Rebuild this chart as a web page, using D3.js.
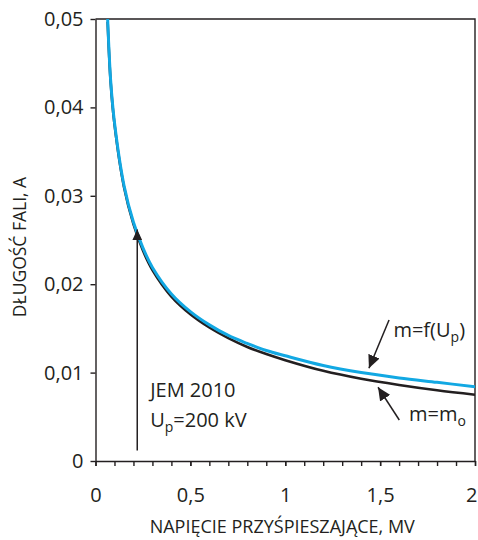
<!DOCTYPE html>
<html>
<head>
<meta charset="utf-8">
<script src="https://cdn.jsdelivr.net/npm/d3@7"></script>
<style>
  body { margin: 0; background: #fff; }
  svg { display: block; }
  text { font-family: "Open Sans", "Noto Sans", sans-serif; fill: #231f20; }
</style>
</head>
<body>
<svg id="chart" width="478" height="540"></svg>
<script>
// accelerating voltage, MV
const voltage = [0.064, 0.08, 0.10, 0.15, 0.20, 0.25, 0.30, 0.40, 0.50, 0.60, 0.70, 0.80, 0.90, 1.00, 1.20, 1.40, 1.60, 1.80, 2.00];
// wavelength, A  — series m = f(Up) (blue)
const lambdaVariableMass = [0.0500, 0.0430, 0.0383, 0.0312, 0.0270, 0.0241, 0.0219, 0.0189, 0.0169, 0.0154, 0.0142, 0.0133, 0.0125, 0.0119, 0.0108, 0.0100, 0.0094, 0.0089, 0.0084];
// wavelength, A  — series m = m0 (black)
const lambdaRestMass = [0.0497, 0.0428, 0.0381, 0.0310, 0.0268, 0.0238, 0.0216, 0.0186, 0.0166, 0.0151, 0.0139, 0.0129, 0.0121, 0.0114, 0.0102, 0.0093, 0.0086, 0.0080, 0.0075];

const xTickValues = [0, 0.5, 1, 1.5, 2];
const xTickLabels = ["0", "0,5", "1", "1,5", "2"];
const xMinorTicks = d3.range(0, 21).map(i => i / 10);
const yTickValues = [0, 0.01, 0.02, 0.03, 0.04, 0.05];
const yTickLabels = ["0", "0,01", "0,02", "0,03", "0,04", "0,05"];

const xTitle = "NAPIĘCIE PRZYŚPIESZAJĄCE, MV";
const yTitle = "DŁUGOŚĆ FALI, A";

const svg = d3.select("#chart");
const L = 95.5, R = 475, T = 19, B = 461;
const x = d3.scaleLinear().domain([0, 2]).range([L, R]);
const y = d3.scaleLinear().domain([0, 0.05]).range([B, T]);
const ink = "#231f20";
const blue = "#12a8e3";

// defs
const defs = svg.append("defs");
defs.append("clipPath").attr("id", "plot").append("rect")
  .attr("x", L).attr("y", T).attr("width", R - L).attr("height", B - T);
function marker(id, w, len) {
  defs.append("marker").attr("id", id)
    .attr("viewBox", `0 ${-w/2} ${len} ${w}`)
    .attr("refX", len).attr("refY", 0)
    .attr("markerWidth", len).attr("markerHeight", w)
    .attr("markerUnits", "userSpaceOnUse")
    .attr("orient", "auto")
    .append("path").attr("d", `M0,${-w/2}L${len},0L0,${w/2}Z`).attr("fill", ink);
}
marker("headSmall", 10, 11);
marker("headBig", 12, 13);

// frame (top and right)
svg.append("path")
  .attr("d", `M${L},${T}H${R}V${B}`)
  .attr("fill", "none").attr("stroke", ink).attr("stroke-width", 1.4);

// x axis: minor ticks
svg.append("g").attr("transform", `translate(0,${B})`)
  .call(d3.axisBottom(x).tickValues(xMinorTicks).tickSize(5).tickSizeOuter(0).tickFormat(""))
  .call(g => g.selectAll("path,line").attr("stroke", ink).attr("stroke-width", 1.4));
// x axis: labels
svg.append("g").attr("transform", `translate(0,${B})`)
  .call(d3.axisBottom(x).tickValues(xTickValues).tickSize(5).tickSizeOuter(0).tickPadding(22)
    .tickFormat((d, i) => xTickLabels[i]))
  .call(g => g.select(".domain").remove())
  .call(g => g.selectAll("line").attr("stroke", ink).attr("stroke-width", 1.4))
  .call(g => g.selectAll("text").attr("font-size", 20).attr("fill", ink)
    .attr("font-family", '"Open Sans", sans-serif'))
  .call(g => g.selectAll(".tick").filter(d => d === 2).select("text")
    .attr("text-anchor", "end").attr("x", 2));

// y axis
svg.append("g").attr("transform", `translate(${L},0)`)
  .call(d3.axisLeft(y).tickValues(yTickValues).tickSize(5).tickSizeOuter(0).tickPadding(7)
    .tickFormat((d, i) => yTickLabels[i]))
  .call(g => g.selectAll("path,line").attr("stroke", ink).attr("stroke-width", 1.4))
  .call(g => g.selectAll("text").attr("font-size", 20).attr("fill", ink)
    .attr("font-family", '"Open Sans", sans-serif'));

// axis titles
svg.append("text")
  .attr("x", (L + R) / 2 - 3).attr("y", 533)
  .attr("text-anchor", "middle").attr("font-size", 18)
  .text(xTitle);
svg.append("text")
  .attr("transform", "translate(26,247) rotate(-90)")
  .attr("text-anchor", "middle").attr("font-size", 17.5)
  .text(yTitle);

// curves
const line = d3.line().curve(d3.curveCatmullRom.alpha(0.5));
const plot = svg.append("g").attr("clip-path", "url(#plot)");
plot.append("path")
  .attr("d", line(voltage.map((v, i) => [x(v), y(lambdaRestMass[i])])))
  .attr("fill", "none").attr("stroke", ink).attr("stroke-width", 2.6);
plot.append("path")
  .attr("d", line(voltage.map((v, i) => [x(v), y(lambdaVariableMass[i])])))
  .attr("fill", "none").attr("stroke", blue).attr("stroke-width", 3);

// JEM 2010 arrow (data coords)
const jemU = 0.22;
svg.append("line")
  .attr("x1", x(jemU)).attr("y1", y(0.0012))
  .attr("x2", x(jemU)).attr("y2", y(0.0262))
  .attr("stroke", ink).attr("stroke-width", 1.5)
  .attr("marker-end", "url(#headSmall)");

svg.append("text").attr("x", x(0.288)).attr("y", y(0.00724))
  .attr("font-size", 20).text("JEM 2010");
const up = svg.append("text").attr("x", x(0.288)).attr("y", y(0.00385)).attr("font-size", 20);
up.append("tspan").text("U");
up.append("tspan").attr("font-size", 14).attr("dy", 5).text("p");
up.append("tspan").attr("dy", -5).text("=200 kV");

// series annotations
svg.append("line")
  .attr("x1", x(1.547)).attr("y1", y(0.01595))
  .attr("x2", x(1.441)).attr("y2", y(0.0105))
  .attr("stroke", ink).attr("stroke-width", 1.5)
  .attr("marker-end", "url(#headBig)");
svg.append("line")
  .attr("x1", x(1.601)).attr("y1", y(0.00464))
  .attr("x2", x(1.489)).attr("y2", y(0.00834))
  .attr("stroke", ink).attr("stroke-width", 1.5)
  .attr("marker-end", "url(#headBig)");

const t1 = svg.append("text").attr("x", x(1.57)).attr("y", y(0.01405)).attr("font-size", 20);
t1.append("tspan").text("m=f(U");
t1.append("tspan").attr("font-size", 14).attr("dy", 5).text("p");
t1.append("tspan").attr("dy", -5).text(")");

const t2 = svg.append("text").attr("x", x(1.652)).attr("y", y(0.00452)).attr("font-size", 20);
t2.append("tspan").text("m=m");
t2.append("tspan").attr("font-size", 14).attr("dy", 5).text("o");
</script>
</body>
</html>
